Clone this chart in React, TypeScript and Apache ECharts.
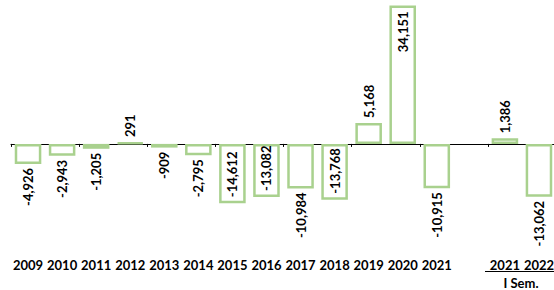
import React, { useEffect, useRef } from "react";
import * as echarts from "echarts";

const categories = ["2009", "2010", "2011", "2012", "2013", "2014", "2015", "2016", "2017", "2018", "2019", "2020", "2021", "", "2021", "2022"];
const values: (number | null)[] = [-4926, -2943, -1205, 291, -909, -2795, -14612, -13082, -10984, -13768, 5168, 34151, -10915, null, 1386, -13062];
// label placement per bar: "out" = outside end of bar, "in" = inside end of bar
const labelPlacement = ["out", "out", "out", "out", "out", "out", "in", "in", "out", "in", "out", "in", "out", "out", "out", "out"];
const subTitle = "I Sem.";

const GREEN = "#A9D18E";
const FONT = "Lato";

function fmt(v: number) {
  return v.toLocaleString("en-US");
}

export default function App() {
  const ref = useRef<HTMLDivElement>(null);
  useEffect(() => {
    document.body.style.margin = "0";
    if (!ref.current) return;
    const chart = echarts.init(ref.current, null, { renderer: "svg" });
    const data = values.map((v, i) => {
      if (v === null) return { value: null };
      const pos = v >= 0;
      const inside = labelPlacement[i] === "in";
      let position: string;
      let align: string;
      let distance: number;
      if (inside) {
        position = pos ? "insideTop" : "insideBottom";
        align = pos ? "right" : "left";
        distance = 6;
      } else if (pos) {
        position = "insideTop";
        align = "left";
        distance = -5;
      } else {
        position = "bottom";
        align = "right";
        distance = 4;
      }
      return {
        value: v,
        label: {
          show: true,
          position,
          align,
          verticalAlign: "middle",
          rotate: 90,
          distance,
          formatter: () => fmt(v),
          fontFamily: FONT,
          fontWeight: "bold",
          fontSize: 13,
          color: "#000",
        },
      };
    });
    chart.setOption({
      animation: false,
      grid: { left: 11, right: -2, top: 2, bottom: 65, outerBoundsMode: "none", containLabel: false },
      xAxis: [
        {
          type: "category",
          data: categories,
          axisLine: { onZero: true, lineStyle: { color: "#000", width: 1 } },
          axisTick: { show: true, length: 3, lineStyle: { color: "#000" } },
          axisLabel: { show: false },
        },
        {
          type: "category",
          data: categories,
          position: "bottom",
          axisLine: { show: false, onZero: false },
          axisTick: { show: false },
          axisLabel: {
            margin: 33,
            interval: 0,
            fontFamily: FONT,
            fontWeight: "bold",
            fontSize: 13,
            color: "#000",
          },
        },
      ],
      yAxis: {
        type: "value",
        min: -20000,
        max: 35000,
        show: false,
        splitLine: { show: false },
      },
      series: [
        {
          type: "bar",
          data,
          barWidth: "78%",
          itemStyle: { color: "#fff", borderColor: GREEN, borderWidth: 2.5 },
        },
      ],
      graphic: [
        {
          type: "line",
          shape: { x1: 485, y1: 271.5, x2: 554, y2: 271.5 },
          style: { stroke: "#000", lineWidth: 1 },
        },
        {
          type: "text",
          x: 521,
          y: 283,
          style: {
            text: subTitle,
            fontFamily: FONT,
            fontWeight: "bold",
            fontSize: 13,
            fill: "#000",
            align: "center",
            verticalAlign: "middle",
          },
        },
      ],
    });
    return () => chart.dispose();
  }, []);
  return <div ref={ref} style={{ width: 554, height: 290 }} />;
}
